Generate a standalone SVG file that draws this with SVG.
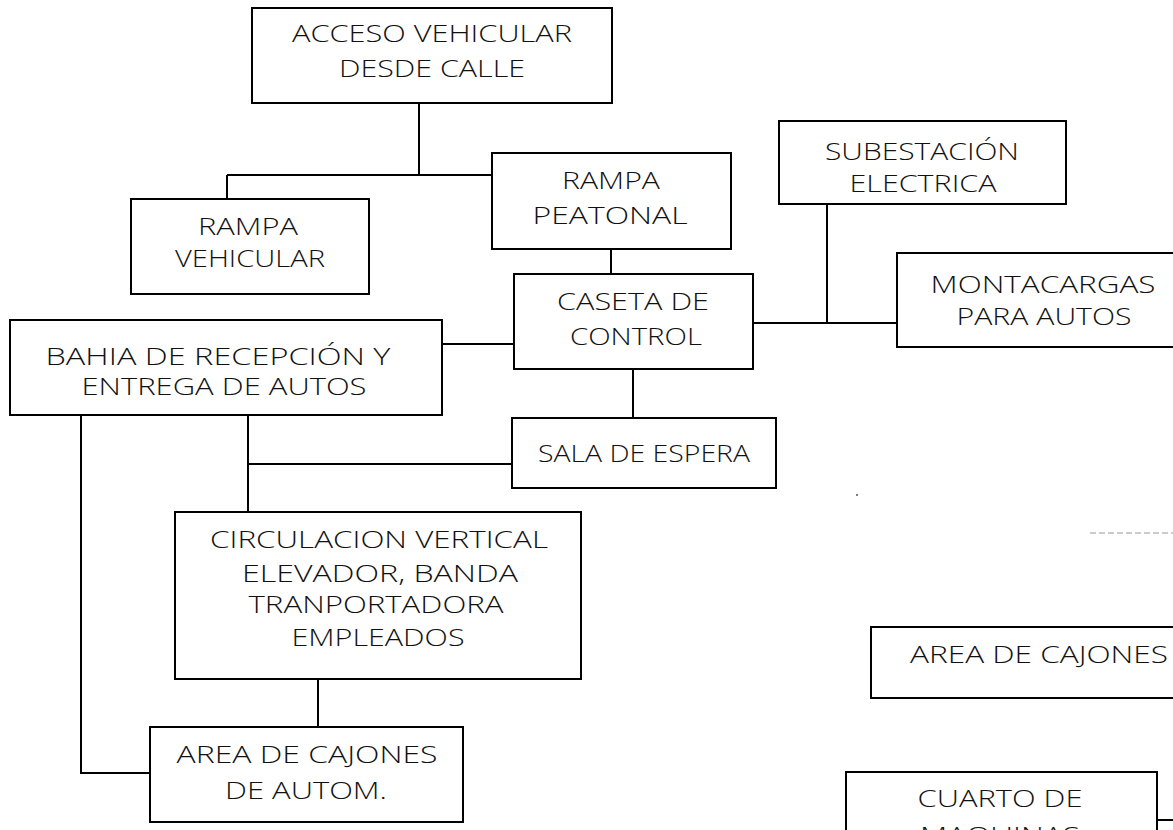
<svg xmlns="http://www.w3.org/2000/svg" width="1173" height="830" viewBox="0 0 1173 830">
<style>
.box{fill:#fff;stroke:#000;stroke-width:2}
.t{font-family:"Open Sans","Liberation Sans",sans-serif;font-size:23px;font-weight:300;fill:#111;text-anchor:middle}
.c{fill:none;stroke:#000;stroke-width:2}
</style>
<rect width="1173" height="830" fill="#fff"/>
<g id="connectors">
<path class="c" d="M419 103V175M227 175H492M227 175V199"/>
<path class="c" d="M611 249V274"/>
<path class="c" d="M442 344H514"/>
<path class="c" d="M753 323H897M827 204V323"/>
<path class="c" d="M633 369V418"/>
<path class="c" d="M248 415V512M248 464H512"/>
<path class="c" d="M81 415V773H150"/>
<path class="c" d="M318 679V727"/>
<path class="c" d="M1157 820H1173"/>
<path d="M1090 533H1173" stroke="#999" stroke-width="1" stroke-dasharray="6 3"/>
<circle cx="857" cy="495" r="1" fill="#555"/>
</g>
<g id="acceso">
<rect class="box" x="252" y="8" width="360" height="95"/>
<text class="t" x="432" y="42" textLength="280" lengthAdjust="spacingAndGlyphs">ACCESO VEHICULAR</text>
<text class="t" x="432" y="77" textLength="186" lengthAdjust="spacingAndGlyphs">DESDE CALLE</text>
</g>
<g id="rampa-vehicular">
<rect class="box" x="131" y="199" width="238" height="95"/>
<text class="t" x="248" y="235" textLength="100" lengthAdjust="spacingAndGlyphs">RAMPA</text>
<text class="t" x="250" y="267" textLength="150" lengthAdjust="spacingAndGlyphs">VEHICULAR</text>
</g>
<g id="rampa-peatonal">
<rect class="box" x="492" y="153" width="239" height="96"/>
<text class="t" x="611" y="189" textLength="98" lengthAdjust="spacingAndGlyphs">RAMPA</text>
<text class="t" x="610" y="224" textLength="155" lengthAdjust="spacingAndGlyphs">PEATONAL</text>
</g>
<g id="caseta">
<rect class="box" x="514" y="274" width="239" height="95"/>
<text class="t" x="633" y="310" textLength="152" lengthAdjust="spacingAndGlyphs">CASETA DE</text>
<text class="t" x="636" y="345" textLength="132" lengthAdjust="spacingAndGlyphs">CONTROL</text>
</g>
<g id="subestacion">
<rect class="box" x="779" y="121" width="287" height="83"/>
<text class="t" x="922" y="160" textLength="194" lengthAdjust="spacingAndGlyphs">SUBESTACIÓN</text>
<text class="t" x="923" y="192" textLength="147" lengthAdjust="spacingAndGlyphs">ELECTRICA</text>
</g>
<g id="montacargas">
<rect class="box" x="897" y="253" width="300" height="94"/>
<text class="t" x="1043" y="293" textLength="225" lengthAdjust="spacingAndGlyphs">MONTACARGAS</text>
<text class="t" x="1044" y="325" textLength="175" lengthAdjust="spacingAndGlyphs">PARA AUTOS</text>
</g>
<g id="bahia">
<rect class="box" x="10" y="320" width="432" height="95"/>
<text class="t" x="218" y="365" textLength="345" lengthAdjust="spacingAndGlyphs">BAHIA DE RECEPCIÓN Y</text>
<text class="t" x="224" y="395" textLength="285" lengthAdjust="spacingAndGlyphs">ENTREGA DE AUTOS</text>
</g>
<g id="sala">
<rect class="box" x="512" y="418" width="264" height="70"/>
<text class="t" x="644" y="462" textLength="212" lengthAdjust="spacingAndGlyphs">SALA DE ESPERA</text>
</g>
<g id="circulacion">
<rect class="box" x="175" y="512" width="406" height="167"/>
<text class="t" x="379" y="548" textLength="338" lengthAdjust="spacingAndGlyphs">CIRCULACION VERTICAL</text>
<text class="t" x="380" y="582" textLength="276" lengthAdjust="spacingAndGlyphs">ELEVADOR, BANDA</text>
<text class="t" x="376" y="613" textLength="255" lengthAdjust="spacingAndGlyphs">TRANPORTADORA</text>
<text class="t" x="378" y="646" textLength="173" lengthAdjust="spacingAndGlyphs">EMPLEADOS</text>
</g>
<g id="area-autom">
<rect class="box" x="150" y="727" width="313" height="95"/>
<text class="t" x="307" y="763" textLength="261" lengthAdjust="spacingAndGlyphs">AREA DE CAJONES</text>
<text class="t" x="306" y="799" textLength="162" lengthAdjust="spacingAndGlyphs">DE AUTOM.</text>
</g>
<g id="area-cajones">
<rect class="box" x="871" y="627" width="340" height="71"/>
<text class="t" x="1039" y="663" textLength="258" lengthAdjust="spacingAndGlyphs">AREA DE CAJONES</text>
</g>
<g id="cuarto">
<rect class="box" x="846" y="772" width="311" height="90"/>
<text class="t" x="1000" y="807" textLength="165" lengthAdjust="spacingAndGlyphs">CUARTO DE</text>
<text class="t" x="1000" y="844" textLength="160" lengthAdjust="spacingAndGlyphs">MAQUINAS</text>
</g>
</svg>
